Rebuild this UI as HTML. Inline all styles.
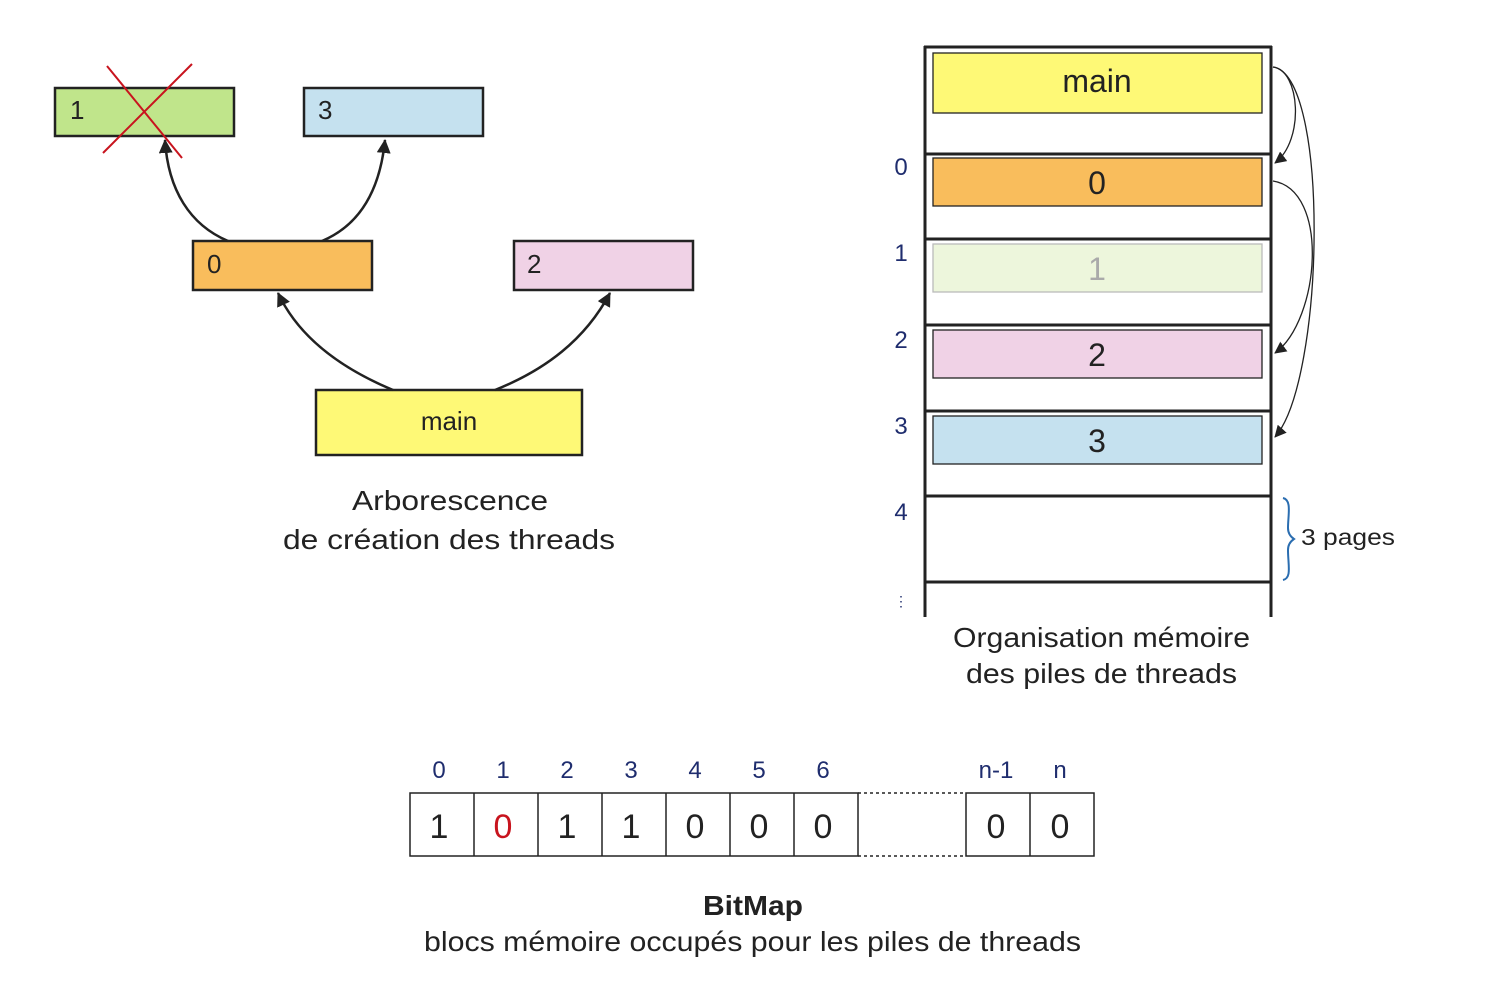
<!DOCTYPE html>
<html><head><meta charset="utf-8"><style>
html,body{margin:0;padding:0;background:#fff;}
svg{display:block;font-family:"Liberation Sans",Arial,sans-serif;}
</style></head><body>
<svg width="1505" height="1002" viewBox="0 0 1505 1002" xmlns="http://www.w3.org/2000/svg">
<defs>
<marker id="ah" markerWidth="12" markerHeight="12" refX="11" refY="6" orient="auto" markerUnits="userSpaceOnUse"><path d="M0,0 L12,6 L0,12 Z" fill="#222"/></marker>
<marker id="as" markerWidth="14" markerHeight="14" refX="13" refY="7" orient="auto" markerUnits="userSpaceOnUse"><path d="M0,0 L14,7 L0,14 Z" fill="#222"/></marker>
</defs>
<!-- tree -->
<g stroke="#222" stroke-width="2.5">
<rect x="55" y="88" width="179" height="48" fill="#c0e58b"/>
<rect x="304" y="88" width="179" height="48" fill="#c5e1ef"/>
<rect x="193" y="241" width="179" height="49" fill="#f9bd5c"/>
<rect x="514" y="241" width="179" height="49" fill="#f0d2e6"/>
<rect x="316" y="390" width="266" height="65" fill="#fef976"/>
</g>
<g fill="none" stroke="#222" stroke-width="2.5">
<path d="M228,241 C190,225 168,190 165,140" marker-end="url(#as)"/>
<path d="M322,241 C360,225 380,190 385,140" marker-end="url(#as)"/>
<path d="M393,390 C345,370 300,340 278,293" marker-end="url(#as)"/>
<path d="M495,390 C545,370 585,340 610,293" marker-end="url(#as)"/>
</g>
<g stroke="#c8141e" stroke-width="2"><line x1="107" y1="66" x2="182" y2="158"/><line x1="192" y1="64" x2="103" y2="153"/></g>
<g font-size="26" fill="#222">
<text x="70" y="119">1</text><text x="318" y="119">3</text>
<text x="207" y="273">0</text><text x="527" y="273">2</text>
<text x="449" y="430" text-anchor="middle">main</text>
</g>
<g font-size="28" fill="#222">
<text x="352" y="510" textLength="196" lengthAdjust="spacingAndGlyphs">Arborescence</text>
<text x="283" y="549" textLength="332" lengthAdjust="spacingAndGlyphs">de création des threads</text>
</g>
<!-- memory -->
<g stroke="#222" stroke-width="3" fill="none">
<line x1="925" y1="46" x2="925" y2="617"/><line x1="1271" y1="46" x2="1271" y2="617"/>
<line x1="924" y1="47" x2="1272" y2="47"/>
<line x1="924" y1="154" x2="1272" y2="154"/><line x1="924" y1="239" x2="1272" y2="239"/>
<line x1="924" y1="325" x2="1272" y2="325"/><line x1="924" y1="411" x2="1272" y2="411"/>
<line x1="924" y1="496" x2="1272" y2="496"/><line x1="924" y1="582" x2="1272" y2="582"/>
</g>
<g stroke="#222" stroke-width="1.3">
<rect x="933" y="53" width="329" height="60" fill="#fef976"/>
<rect x="933" y="158" width="329" height="48" fill="#f9bd5c"/>
<rect x="933" y="244" width="329" height="48" fill="#edf6dc" stroke="#bbb"/>
<rect x="933" y="330" width="329" height="48" fill="#f0d2e6"/>
<rect x="933" y="416" width="329" height="48" fill="#c5e1ef"/>
</g>
<g font-size="32" text-anchor="middle" fill="#222">
<text x="1097" y="92">main</text><text x="1097" y="194">0</text>
<text x="1097" y="280" fill="#aaa">1</text><text x="1097" y="366">2</text><text x="1097" y="452">3</text>
</g>
<g font-size="24" fill="#1f2d6e" text-anchor="middle">
<text x="901" y="175">0</text><text x="901" y="261">1</text><text x="901" y="348">2</text>
<text x="901" y="434">3</text><text x="901" y="520">4</text>
<text x="901" y="606" font-size="14">⋮</text>
</g>
<g fill="none" stroke="#222" stroke-width="1.3">
<path d="M1273,67 C1300,70 1305,140 1275,163" marker-end="url(#ah)"/>
<path d="M1273,67 C1330,75 1325,380 1275,437" marker-end="url(#ah)"/>
<path d="M1273,181 C1330,190 1320,320 1275,353" marker-end="url(#ah)"/>
</g>
<path d="M1283,498 C1292,500 1288,515 1288,528 C1288,534 1291,537 1294,539 C1291,541 1288,544 1288,550 C1288,565 1292,578 1283,580" fill="none" stroke="#2a6db0" stroke-width="2"/>
<text x="1301" y="545" font-size="23" fill="#222" textLength="94" lengthAdjust="spacingAndGlyphs">3 pages</text>
<g font-size="28" fill="#222">
<text x="953" y="647" textLength="297" lengthAdjust="spacingAndGlyphs">Organisation mémoire</text>
<text x="966" y="683" textLength="271" lengthAdjust="spacingAndGlyphs">des piles de threads</text>
</g>
<!-- bitmap -->
<g stroke="#222" stroke-width="1.5" fill="none">
<rect x="410" y="793" width="448" height="63"/>
<line x1="474" y1="793" x2="474" y2="856"/><line x1="538" y1="793" x2="538" y2="856"/>
<line x1="602" y1="793" x2="602" y2="856"/><line x1="666" y1="793" x2="666" y2="856"/>
<line x1="730" y1="793" x2="730" y2="856"/><line x1="794" y1="793" x2="794" y2="856"/>
<rect x="966" y="793" width="128" height="63"/><line x1="1030" y1="793" x2="1030" y2="856"/>
<line x1="858" y1="793" x2="966" y2="793" stroke-dasharray="3,3"/>
<line x1="858" y1="856" x2="966" y2="856" stroke-dasharray="3,3"/>
</g>
<g font-size="24" fill="#1f2d6e" text-anchor="middle">
<text x="439" y="778">0</text><text x="503" y="778">1</text><text x="567" y="778">2</text>
<text x="631" y="778">3</text><text x="695" y="778">4</text><text x="759" y="778">5</text>
<text x="823" y="778">6</text><text x="996" y="778">n-1</text><text x="1060" y="778">n</text>
</g>
<g font-size="34" fill="#222" text-anchor="middle">
<text x="439" y="838">1</text><text x="503" y="838" fill="#c8141e">0</text><text x="567" y="838">1</text>
<text x="631" y="838">1</text><text x="695" y="838">0</text><text x="759" y="838">0</text>
<text x="823" y="838">0</text><text x="996" y="838">0</text><text x="1060" y="838">0</text>
</g>
<g font-size="28" fill="#222">
<text x="703" y="915" font-weight="bold" textLength="100" lengthAdjust="spacingAndGlyphs">BitMap</text>
<text x="424" y="951" textLength="657" lengthAdjust="spacingAndGlyphs">blocs mémoire occupés pour les piles de threads</text>
</g>
</svg>
</body></html>
